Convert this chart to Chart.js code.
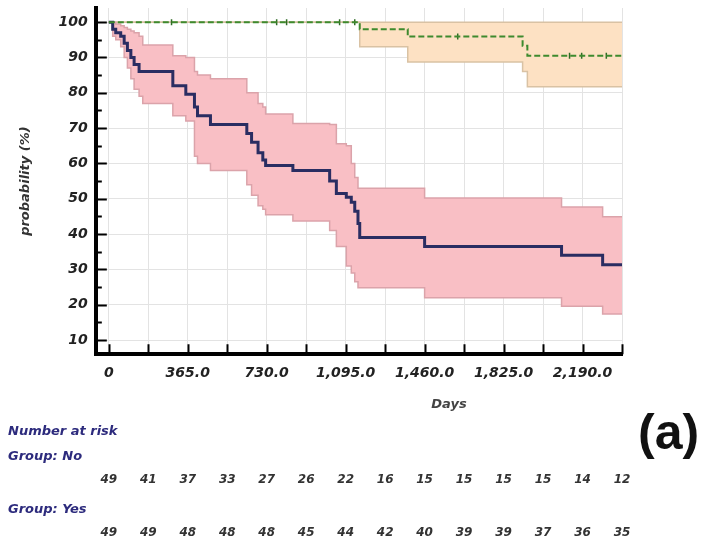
<!DOCTYPE html>
<html>
<head>
<meta charset="utf-8">
<script src="https://cdn.jsdelivr.net/npm/chart.js@4.4.0/dist/chart.umd.min.js"></script>
<style>
  html, body { margin: 0; padding: 0; background: #fff; }
  canvas { display: block; }
</style>
</head>
<body>
<canvas id="km" width="704" height="546"></canvas>
<script>
// ===== DATA =====
const xTicks = [0, 182.5, 365, 547.5, 730, 912.5, 1095, 1277.5, 1460, 1642.5, 1825, 2007.5, 2190, 2372.5];
const yTicks = [10, 20, 30, 40, 50, 60, 70, 80, 90, 100];
const yMinorTicks = [15, 25, 35, 45, 55, 65, 75, 85, 95];

// Group: No — step times (days), survival %, 95% CI
const noDays  = [0, 18, 32, 55, 71, 86, 102, 117, 140, 157, 296, 356, 396, 410, 470, 638, 660, 690, 712, 725, 851, 1021, 1052, 1098, 1121, 1137, 1152, 1160, 1460, 2093, 2283, 2372.5];
const noSurv  = [100, 98, 97, 96, 94, 92, 90, 88, 86, 86, 82, 79.6, 76, 73.5, 71, 68.5, 66, 63, 61, 59.4, 58, 55, 51.5, 50.4, 49, 46.5, 43, 39, 36.5, 34, 31.3, 31.3];
const noUpper = [100, 100, 99.5, 99, 98.5, 98, 97.5, 97, 96, 93.5, 90.5, 90, 86, 85, 84, 80, 80, 77, 76, 74, 71.3, 71, 65.6, 65, 60, 56, 53, 53, 50.2, 47.7, 44.9, 44.9];
const noLower = [100, 96, 95, 93, 90, 87, 84, 81, 79, 77, 73.5, 72, 62, 60, 58, 54, 51, 48, 47, 45.5, 43.7, 41, 36.5, 31, 29, 26.5, 24.8, 24.8, 22, 19.6, 17.4, 17.4];

// Group: Yes
const yesDays  = [0, 1160, 1382, 1913, 1935, 2372.5];
const yesSurv  = [100, 98, 95.9, 93.3, 90.5, 90.5];
const yesUpper = [100, 100, 100, 100, 100, 100];
const yesLower = [100, 93, 88.7, 86, 81.7, 81.7];
const yesCensored = [290, 776, 822, 1067, 1137, 1613, 2130, 2186, 2300];

// Number at risk (at each x tick)
const riskNo  = [49, 41, 37, 33, 27, 26, 22, 16, 15, 15, 15, 15, 14, 12];
const riskYes = [49, 49, 48, 48, 48, 45, 44, 42, 40, 39, 39, 37, 36, 35];

// ===== HELPERS =====
const toPoints = (days, vals) => days.map((d, i) => ({ x: d, y: vals[i] }));

function stepValue(days, vals, t) {
    let v = vals[0];
    for (let i = 0; i < days.length; i++) if (days[i] <= t) v = vals[i];
    return v;
}

function fmtDays(v) {
    if (v === 0) return '0';
    return v.toLocaleString('en-US', { minimumFractionDigits: 1, maximumFractionDigits: 1 });
}

const labelFont = { family: 'DejaVu Sans', size: 14, style: 'italic', weight: 'bold' };

// inner tick marks, "Days", number-at-risk table, panel letter
const extras = {
    id: 'extras',
    afterDraw(chart) {
        const { ctx, chartArea, scales: { x, y } } = chart;
        ctx.save();
        ctx.strokeStyle = '#000';
        ctx.lineWidth = 2;
        ctx.beginPath();
        yTicks.forEach(v => {
            const py = Math.round(y.getPixelForValue(v)) + 0.5;
            ctx.moveTo(chartArea.left, py); ctx.lineTo(chartArea.left + 11, py);
        });
        yMinorTicks.forEach(v => {
            const py = Math.round(y.getPixelForValue(v)) + 0.5;
            ctx.moveTo(chartArea.left, py); ctx.lineTo(chartArea.left + 6, py);
        });
        xTicks.forEach(v => {
            const px = Math.round(x.getPixelForValue(v)) + 0.5;
            ctx.moveTo(px, chartArea.bottom); ctx.lineTo(px, chartArea.bottom - 10);
        });
        ctx.stroke();

        ctx.textBaseline = 'middle';
        ctx.fillStyle = '#444';
        ctx.textAlign = 'center';
        ctx.font = 'italic bold 13px "DejaVu Sans"';
        ctx.fillText('Days', 449, 405);

        ctx.textAlign = 'left';
        ctx.fillStyle = '#2d2b7d';
        ctx.font = 'italic bold 13px "DejaVu Sans"';
        ctx.fillText('Number at risk', 8, 432);
        ctx.fillText('Group: No', 8, 457);
        ctx.fillText('Group: Yes', 8, 510);

        ctx.textAlign = 'center';
        ctx.fillStyle = '#333';
        ctx.font = 'italic bold 12px "DejaVu Sans"';
        xTicks.forEach((t, i) => {
            const px = x.getPixelForValue(t);
            ctx.fillText(String(riskNo[i]), px, 480);
            ctx.fillText(String(riskYes[i]), px, 533);
        });

        ctx.fillStyle = '#111';
        ctx.font = 'bold 50px "Liberation Sans"';
        ctx.textAlign = 'left';
        ctx.fillText('(a)', 638, 435);
        ctx.restore();
    }
};

const bandNo = { border: '#dba3aa', fill: '#f9bfc5' };
const bandYes = { border: '#d9c2a4', fill: '#fde1c3' };

new Chart(document.getElementById('km'), {
    type: 'line',
    data: {
        datasets: [
            {
                label: 'Group: Yes',
                data: toPoints(yesDays, yesSurv),
                stepped: true, borderColor: '#3e8a2e', borderWidth: 2,
                borderDash: [6, 3], pointRadius: 0, fill: false
            },
            {
                label: 'Yes censored',
                data: yesCensored.map(d => ({ x: d, y: stepValue(yesDays, yesSurv, d) })),
                showLine: false, pointStyle: 'line', rotation: 90, pointRadius: 3,
                borderColor: '#2f6b25', borderWidth: 1.5
            },
            {
                label: 'Group: No',
                data: toPoints(noDays, noSurv),
                stepped: true, borderColor: '#2a2d62', borderWidth: 3,
                pointRadius: 0, fill: false
            },
            {
                label: 'No upper',
                data: toPoints(noDays, noUpper),
                stepped: true, borderColor: bandNo.border, borderWidth: 1.5,
                pointRadius: 0, fill: false, order: 1
            },
            {
                label: 'No lower',
                data: toPoints(noDays, noLower),
                stepped: true, borderColor: bandNo.border, borderWidth: 1.5,
                backgroundColor: bandNo.fill, pointRadius: 0, fill: '-1', order: 1
            },
            {
                label: 'Yes upper',
                data: toPoints(yesDays, yesUpper),
                stepped: true, borderColor: bandYes.border, borderWidth: 1.5,
                pointRadius: 0, fill: false, order: 1
            },
            {
                label: 'Yes lower',
                data: toPoints(yesDays, yesLower),
                stepped: true, borderColor: bandYes.border, borderWidth: 1.5,
                backgroundColor: bandYes.fill, pointRadius: 0, fill: '-1', order: 1
            }
        ]
    },
    options: {
        responsive: false,
        animation: false,
        layout: { padding: { top: 8, right: 82, bottom: 153, left: 4 } },
        plugins: { legend: { display: false }, tooltip: { enabled: false } },
        scales: {
            x: {
                type: 'linear', min: -60, max: 2372.5,
                afterBuildTicks: s => { s.ticks = xTicks.map(v => ({ value: v })); },
                ticks: {
                    autoSkip: false, maxRotation: 0, padding: 11,
                    color: '#222', font: labelFont,
                    callback: v => (v % 365 === 0 ? fmtDays(v) : '')
                },
                grid: { color: '#e3e3e3', drawTicks: false },
                border: { color: '#000', width: 4 }
            },
            y: {
                type: 'linear', min: 6, max: 104,
                afterBuildTicks: s => { s.ticks = yTicks.map(v => ({ value: v })); },
                afterFit: s => { s.paddingTop = 0; s.paddingBottom = 0; },
                ticks: { padding: 8, color: '#222', font: labelFont },
                grid: { color: '#e3e3e3', drawTicks: false },
                border: { color: '#000', width: 4 },
                title: {
                    display: true, text: 'probability (%)', color: '#333',
                    font: { family: 'DejaVu Sans', size: 13, style: 'italic', weight: 'bold' },
                    padding: { top: 14, bottom: 17 }
                }
            }
        }
    },
    plugins: [extras]
});
</script>
</body>
</html>
